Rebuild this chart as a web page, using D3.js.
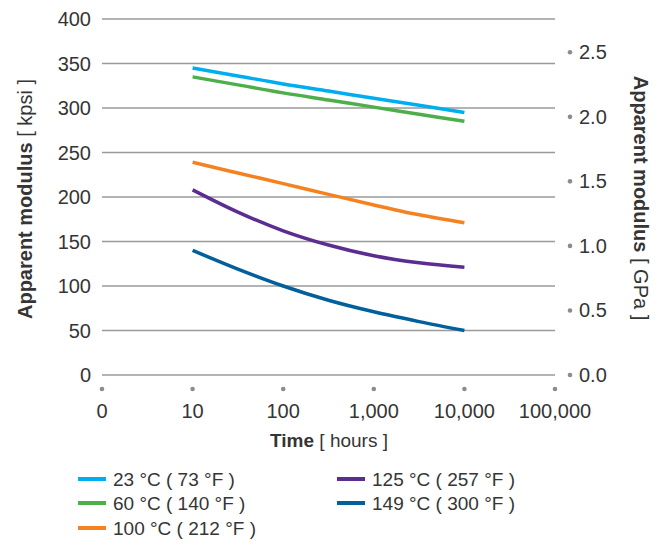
<!DOCTYPE html>
<html>
<head>
<meta charset="utf-8">
<script src="https://cdn.jsdelivr.net/npm/d3@7"></script>
<style>
  body { margin: 0; background: #fff; }
  text { font-family: "Liberation Sans", Arial, sans-serif; fill: #353535; }
</style>
</head>
<body>
<div id="chart"></div>
<script>
// data (hours on a log axis)
var hours = [10, 31.6, 100, 316, 1000, 3160, 10000];
var series = ["23 °C ( 73 °F )", "60 °C ( 140 °F )", "100 °C ( 212 °F )", "125 °C ( 257 °F )", "149 °C ( 300 °F )"];
var colors = ["#00aeef", "#4daf4a", "#f58220", "#5c2d91", "#00609c"];
var v23 = [345, 336, 327, 319, 311, 303, 295];
var v60 = [335, 326, 317, 309, 301, 293, 285];
var v100 = [239, 227, 215, 203, 191, 180, 171];
var v125 = [208, 183, 162, 146, 134, 126, 121];
var v149 = [140, 119, 100, 84, 71, 60, 50];
var xTickLabels = ["0", "10", "100", "1,000", "10,000", "100,000"];
var yTicks = [0, 50, 100, 150, 200, 250, 300, 350, 400];
var gpaTicks = [0.0, 0.5, 1.0, 1.5, 2.0, 2.5];
var values = [v23, v60, v100, v125, v149];

var svgWidth = 663, svgHeight = 547;
var svg = d3.select("#chart").append("svg")
  .attr("width", svgWidth).attr("height", svgHeight);

var plotLeft = 102, plotRight = 555, plotTop = 19, plotBottom = 375;

// x: log10 of hours, "0" label sits at 1 hour
var x = d3.scaleLinear().domain([0, 5]).range([plotLeft, plotRight]);
var y = d3.scaleLinear().domain([0, 400]).range([plotBottom, plotTop]);
var yG = d3.scaleLinear().domain([0, 400 / 145.038]).range([plotBottom, plotTop]);

// gridlines
svg.append("g").selectAll("line").data(yTicks).join("line")
  .attr("x1", plotLeft).attr("x2", plotRight)
  .attr("y1", function(d) { return y(d); }).attr("y2", function(d) { return y(d); })
  .attr("stroke", "#9a9a9a").attr("stroke-width", 1.5);

// left axis labels
svg.append("g").selectAll("text").data(yTicks).join("text")
  .attr("x", 91).attr("y", function(d) { return y(d); })
  .attr("dy", "0.35em").attr("text-anchor", "end")
  .style("font-size", "20px").text(function(d) { return d; });

// right axis: dots + labels
var ra = svg.append("g");
ra.selectAll("circle").data(gpaTicks).join("circle")
  .attr("cx", 570).attr("cy", function(d) { return yG(d); })
  .attr("r", 2.3).attr("fill", "#8c8c8c");
ra.selectAll("text").data(gpaTicks).join("text")
  .attr("x", 579).attr("y", function(d) { return yG(d); })
  .attr("dy", "0.35em").style("font-size", "20px")
  .text(function(d) { return d3.format(".1f")(d); });

// bottom axis: dots + labels
var ba = svg.append("g");
ba.selectAll("circle").data(d3.range(6)).join("circle")
  .attr("cx", function(d) { return x(d); }).attr("cy", 389)
  .attr("r", 2.3).attr("fill", "#8c8c8c");
ba.selectAll("text").data(xTickLabels).join("text")
  .attr("x", function(d, i) { return x(i); }).attr("y", 418)
  .attr("text-anchor", "middle").style("font-size", "20px")
  .text(function(d) { return d; });

// axis titles
var xt = svg.append("text").attr("x", 329).attr("y", 447)
  .attr("text-anchor", "middle").style("font-size", "19px");
xt.append("tspan").attr("font-weight", "bold").text("Time");
xt.append("tspan").text(" [ hours ]");

var yl = svg.append("text").attr("transform", "translate(32,199) rotate(-90)")
  .attr("text-anchor", "middle").style("font-size", "20px");
yl.append("tspan").attr("font-weight", "bold").text("Apparent modulus");
yl.append("tspan").text(" [ kpsi ]");

var yr = svg.append("text").attr("transform", "translate(634,198) rotate(90)")
  .attr("text-anchor", "middle").style("font-size", "20px");
yr.append("tspan").attr("font-weight", "bold").text("Apparent modulus");
yr.append("tspan").text(" [ GPa ]");

// lines
var line = d3.line()
  .x(function(d, i) { return x(Math.log10(hours[i])); })
  .y(function(d) { return y(d); })
  .curve(d3.curveMonotoneX);

svg.append("g").selectAll("path").data(values).join("path")
  .attr("d", line)
  .attr("fill", "none")
  .attr("stroke", function(d, i) { return colors[i]; })
  .attr("stroke-width", 3.5);

// legend
var legPos = [[78, 479], [78, 503], [78, 528], [337, 479], [337, 503]];
var leg = svg.append("g").selectAll("g").data(series).join("g")
  .attr("transform", function(d, i) { return "translate(" + legPos[i][0] + "," + legPos[i][1] + ")"; });
leg.append("line").attr("x1", 0).attr("x2", 28)
  .attr("stroke", function(d, i) { return colors[i]; }).attr("stroke-width", 4);
leg.append("text").attr("x", 35).attr("dy", "0.35em")
  .style("font-size", "19px").text(function(d) { return d; });
</script>
</body>
</html>
